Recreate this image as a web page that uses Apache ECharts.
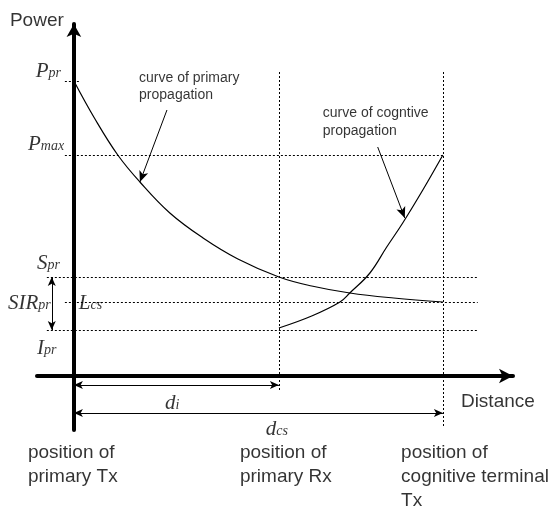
<!DOCTYPE html>
<html>
<head>
<meta charset="utf-8">
<title>Power vs Distance</title>
<script src="https://cdn.jsdelivr.net/npm/echarts@6.0.0/dist/echarts.min.js"></script>
<style>
html,body{margin:0;padding:0;background:#fff;}
#main{width:554px;height:507px;}
</style>
</head>
<body>
<div id="main"></div>
<script>
// curve of primary propagation (distance, power)
var primaryDist  = [0, 0.5, 1.07, 1.61, 2.34, 3.15, 4.0, 5.0, 5.8, 6.73, 7.8, 9.0];
var primaryPower = [29.5, 25.8, 22.1, 19.4, 16.3, 13.8, 11.7, 9.9, 9.0, 8.3, 7.8, 7.4];
// curve of cognitive propagation
var cogDist  = [5.0, 5.8, 6.49, 6.73, 7.22, 7.63, 8.02, 8.51, 9.0];
var cogPower = [4.8, 6.0, 7.4, 8.3, 10.3, 12.9, 15.3, 18.6, 22.1];
// power levels : Ppr, Pmax, Spr, Lcs, Ipr
var levelValues = [29.5, 22.1, 9.9, 7.4, 4.6];
var levelFrom   = [-0.22, -0.22, -0.66, -0.22, -0.66];
var levelTo     = [0.15, 9.0, 9.85, 9.85, 9.85];
// distances : di, dcs
var distValues = [5.0, 9.0];
var distTop    = [30.4, 30.4];
var distBottom = [-1.6, -5.2];
var distArrowY = [-0.9, -3.7];

function zip(a, b) {
    var r = [];
    for (var i = 0; i < a.length; i++) r.push([a[i], b[i]]);
    return r;
}

var dot = {color: '#000', width: 1, type: [2, 2]};
var guides = [];
for (var i = 0; i < levelValues.length; i++) {
    guides.push([{coord: [levelFrom[i], levelValues[i]]}, {coord: [levelTo[i], levelValues[i]]}]);
}
for (var j = 0; j < distValues.length; j++) {
    guides.push([{coord: [distValues[j], distTop[j]]}, {coord: [distValues[j], distBottom[j]]}]);
}

// arrows
var arrows = [
    // pointers to the curves
    [{coord: [2.27, 26.6], symbol: 'none'}, {coord: [1.61, 19.4], symbol: 'arrow', symbolSize: [7, 11]}],
    [{coord: [7.41, 22.9], symbol: 'none'}, {coord: [8.07, 15.8], symbol: 'arrow', symbolSize: [7, 11]}],
    // SIR
    [{coord: [-0.54, levelValues[2]], symbol: 'arrow', symbolSize: [6, 9]}, {coord: [-0.54, levelValues[4]], symbol: 'arrow', symbolSize: [6, 9]}],
    // di, dcs
    [{coord: [0, distArrowY[0]], symbol: 'arrow', symbolSize: [6, 9]}, {coord: [distValues[0], distArrowY[0]], symbol: 'arrow', symbolSize: [6, 9]}],
    [{coord: [0, distArrowY[1]], symbol: 'arrow', symbolSize: [6, 9]}, {coord: [distValues[1], distArrowY[1]], symbol: 'arrow', symbolSize: [6, 9]}]
];

// text
var sans = 'Liberation Sans, Arial, sans-serif';
var serif = 'Liberation Serif, Times New Roman, serif';
var rich = {
    m: {fontFamily: serif, fontStyle: 'italic', fontSize: 21, color: '#000', lineHeight: 24, verticalAlign: 'bottom'},
    s: {fontFamily: serif, fontStyle: 'italic', fontSize: 14, color: '#000', lineHeight: 24, verticalAlign: 'bottom', padding: [0, 0, 2, 0]}
};
var labels = [
    {value: [-1.56, 35.5], txt: 'Power', size: 19},
    {value: [-0.93, 30.6], txt: '{m|P}{s|pr}'},
    {value: [-1.12, 23.3], txt: '{m|P}{s|max}'},
    {value: [-0.90, 11.4], txt: '{m|S}{s|pr}'},
    {value: [-1.61, 7.4], txt: '{m|SIR}{s|pr}'},
    {value: [0.12, 7.4], txt: '{m|L}{s|cs}'},
    {value: [-0.90, 2.9], txt: '{m|I}{s|pr}'},
    {value: [2.22, -2.6], txt: '{m|d}{s|i}'},
    {value: [4.68, -5.2], txt: '{m|d}{s|cs}'},
    {value: [9.44, -2.6], txt: 'Distance', size: 19},
    {value: [1.59, 28.95], txt: 'curve of primary\npropagation', size: 14, lh: 17},
    {value: [6.07, 25.35], txt: 'curve of cogntive\npropagation', size: 14, lh: 18},
    {value: [-1.12, -8.9], txt: 'position of\nprimary Tx', size: 19, lh: 24},
    {value: [4.05, -8.9], txt: 'position of\nprimary Rx', size: 19, lh: 24},
    {value: [7.98, -10.1], txt: 'position of\ncognitive terminal\nTx', size: 19, lh: 24}
];
var labelData = labels.map(function (l) {
    var lab = {formatter: l.txt};
    if (l.size) {
        lab.fontFamily = sans;
        lab.fontSize = l.size;
        lab.lineHeight = l.lh || l.size + 4;
    }
    return {value: l.value, label: lab};
});

var myChart = echarts.init(document.getElementById('main'));
var option = {
    backgroundColor: '#fff',
    animation: false,
    grid: {left: 37, right: 41, top: 24, bottom: 77},
    xAxis: {
        type: 'value', min: -0.9, max: 10.71,
        axisLine: {show: true, onZero: true, symbol: ['none', 'arrow'], symbolSize: [11, 14],
            lineStyle: {color: '#000', width: 4}},
        axisTick: {show: false}, axisLabel: {show: false}, splitLine: {show: false}
    },
    yAxis: {
        type: 'value', min: -5.4, max: 35.2,
        axisLine: {show: true, onZero: true, symbol: ['none', 'arrow'], symbolSize: [11, 13],
            lineStyle: {color: '#000', width: 4}},
        axisTick: {show: false}, axisLabel: {show: false}, splitLine: {show: false}
    },
    series: [
        {
            type: 'line', name: 'guides', data: [], silent: true,
            markLine: {
                silent: true, symbol: 'none', animation: false,
                label: {show: false}, lineStyle: dot,
                emphasis: {disabled: true},
                data: guides
            }
        },
        {
            type: 'line', name: 'arrows', data: [], silent: true,
            markLine: {
                silent: true, animation: false,
                label: {show: false}, lineStyle: {color: '#000', width: 1, type: 'solid'},
                emphasis: {disabled: true},
                data: arrows
            }
        },
        {
            type: 'line', name: 'primary', data: zip(primaryDist, primaryPower),
            smooth: 0.4, showSymbol: false, silent: true,
            lineStyle: {color: '#000', width: 1.2}
        },
        {
            type: 'line', name: 'cognitive', data: zip(cogDist, cogPower),
            smooth: 0.4, showSymbol: false, silent: true,
            lineStyle: {color: '#000', width: 1.2}
        },
        {
            type: 'scatter', name: 'text', data: labelData, symbolSize: 0, clip: false, silent: true,
            label: {show: true, position: 'right', distance: 0, color: '#000', rich: rich}
        }
    ]
};
myChart.setOption(option);
</script>
</body>
</html>
